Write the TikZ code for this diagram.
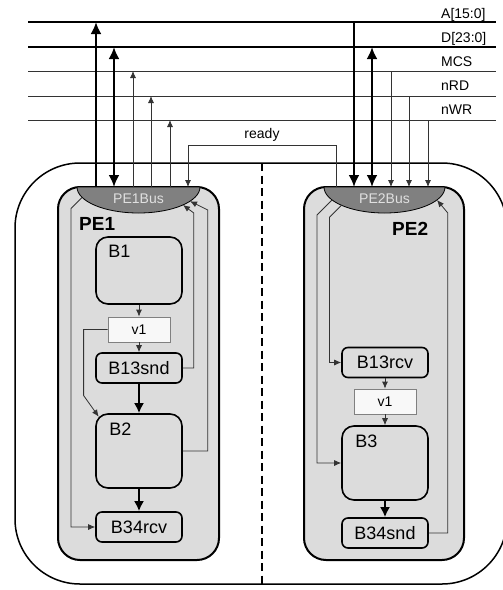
\documentclass[tikz,border=0pt]{standalone}
\usepackage{fontspec}
\setmainfont{Liberation Sans}
\usetikzlibrary{arrows.meta,calc}

\definecolor{pefill}{HTML}{DCDCDC}
\definecolor{busfill}{HTML}{808080}
\definecolor{varfill}{HTML}{F8F8F8}
\definecolor{wire}{HTML}{333333}

\begin{document}
\begin{tikzpicture}[
  x=1pt, y=-1pt,
  pebox/.style={
    draw,
    line width=2pt,
    fill=pefill,
    rounded corners=22pt
  },
  block/.style={
    draw,
    line width=1.6pt,
    fill=pefill,
    rounded corners=6pt,
    minimum width=86pt,
    minimum height=30pt,
    font=\fontsize{18}{20}\selectfont
  },
  bigblock/.style={
    block,
    rounded corners=12pt,
    minimum height=74pt
  },
  varbox/.style={
    draw=busfill,
    line width=0.8pt,
    fill=varfill,
    minimum width=62pt,
    minimum height=25pt,
    font=\fontsize{14}{16}\selectfont
  },
  corner/.style={anchor=north west, inner sep=0pt, font=\fontsize{18}{20}\selectfont},
  pelbl/.style={anchor=north west, inner sep=0pt, font=\fontsize{19}{21}\selectfont\bfseries},
  buslbl/.style={anchor=base west, inner sep=0pt, font=\fontsize{14}{16}\selectfont},
  lens/.style={fill=busfill, draw=black, line width=0.8pt},
  busline/.style={line width=2.5pt},
  sigline/.style={draw=wire, line width=0.9pt},
  busarr/.style={line width=2.5pt, -{Latex[length=12pt,width=11pt]}},
  busdarr/.style={line width=2.5pt, {Latex[length=12pt,width=11pt]}-{Latex[length=12pt,width=11pt]}},
  flowarr/.style={line width=2pt, -{Latex[length=10pt,width=10pt]}},
  thinarr/.style={draw=wire, line width=0.8pt, -{Latex[length=7pt,width=6pt]}}
]
\useasboundingbox (0,0) rectangle (503,590);
\clip (0,0) rectangle (503,590);

% --- Shared bus lines ---
\coordinate (aL) at (28,22);  \coordinate (aR) at (496,22);
\coordinate (dL) at (28,47);  \coordinate (dR) at (496,47);
\coordinate (mL) at (28,71);  \coordinate (mR) at (496,71);
\coordinate (rL) at (28,96);  \coordinate (rR) at (496,96);
\coordinate (wL) at (28,120); \coordinate (wR) at (496,120);

\draw[busline] (aL) -- (aR);
\draw[busline] (dL) -- (dR);
\draw[sigline] (mL) -- (mR);
\draw[sigline] (rL) -- (rR);
\draw[sigline] (wL) -- (wR);

\node[buslbl] (albl) at (441,18) {A[15:0]};
\node[buslbl] (dlbl) at (441,42) {D[23:0]};
\node[buslbl] (mlbl) at (441,66) {MCS};
\node[buslbl] (rlbl) at (441,90) {nRD};
\node[buslbl] (wlbl) at (441,114) {nWR};

% --- System frame and partition ---
\draw[line width=1.5pt, rounded corners=65pt] (15,163) rectangle (507,584);
\coordinate (divtop) at (262,163);
\coordinate (divbot) at (262,584);
\draw[line width=1.8pt, dash pattern=on 8pt off 4.5pt] (divtop) -- (divbot);

% --- Processing elements ---
\draw[pebox] (58,187) rectangle (219,560);
\draw[pebox] (304,187) rectangle (464,560);

\draw[lens] (77,187) arc[start angle=180, end angle=360, x radius=61.5pt, y radius=26pt] -- cycle;
\draw[lens] (324,187) arc[start angle=180, end angle=360, x radius=60.5pt, y radius=26pt] -- cycle;
\node[text=white!88!black, font=\fontsize{14}{16}\selectfont] (pe1bus) at (138.5,199) {PE1Bus};
\node[text=white!88!black, font=\fontsize{14}{16}\selectfont] (pe2bus) at (384.5,199) {PE2Bus};

\node[pelbl] (pe1lbl) at (79,217) {PE1};
\node[pelbl] (pe2lbl) at (392,222) {PE2};

% PE1 blocks
\node[bigblock, minimum height=67pt, label={[corner, xshift=13pt, yshift=-9pt]north west:B1}] (b1) at (139,270.5) {};
\node[varbox] (v1a) at (139,329.5) {v1};
\node[block] (b13snd) at (139,368) {B13snd};
\node[bigblock, label={[corner, xshift=14pt, yshift=-10pt]north west:B2}] (b2) at (139,451) {};
\node[block] (b34rcv) at (139,527) {B34rcv};

% PE2 blocks
\node[block] (b13rcv) at (385,362.5) {B13rcv};
\node[varbox] (v1b) at (385,401.5) {v1};
\node[bigblock, label={[corner, xshift=14pt, yshift=-10pt]north west:B3}] (b3) at (385,463) {};
\node[block] (b34snd) at (385,533) {B34snd};

% --- Bus connections ---
\coordinate (pe1a) at (96,187);
\coordinate (pe1d) at (114,187);
\coordinate (pe1m) at (133,187);
\coordinate (pe1r) at (151,187);
\coordinate (pe1w) at (170,187);
\coordinate (pe2a) at (354,187);
\coordinate (pe2d) at (372,187);
\coordinate (pe2m) at (391,187);
\coordinate (pe2r) at (409,187);
\coordinate (pe2w) at (428,187);

\draw[busarr] (pe1a) -- (pe1a |- aL);
\draw[busdarr] (pe1d |- dL) -- (pe1d);
\draw[thinarr] (pe1m) -- (pe1m |- mL);
\draw[thinarr] (pe1r) -- (pe1r |- rL);
\draw[thinarr] (pe1w) -- (pe1w |- wL);

\draw[busarr] (pe2a |- aL) -- (pe2a);
\draw[busdarr] (pe2d |- dL) -- (pe2d);
\draw[thinarr] (pe2m |- mL) -- (pe2m);
\draw[thinarr] (pe2r |- rL) -- (pe2r);
\draw[thinarr] (pe2w |- wL) -- (pe2w);

% ready handshake
\coordinate (rdyout) at (336,187);
\coordinate (rdyin) at (188,187);
\draw[thinarr] (rdyout) -- ++(0,-42) -| node[pos=0.25, above, font=\fontsize{14}{16}\selectfont] {ready} (rdyin);

% --- PE1 internal ---
\coordinate (pe1l1) at (82,197.5);
\coordinate (pe1r1) at (183,205);
\coordinate (pe1r2) at (190,201.2);
\coordinate (b2tip) at ($(b2.north west)+(3.5,3.5)$);

\draw[thinarr] (b1) -- (v1a);
\draw[thinarr] (v1a) -- (b13snd);
\draw[flowarr] (b13snd) -- (b2);
\draw[flowarr] (b2) -- (b34rcv);
\draw[thinarr] (pe1l1) -- ++(-11,11) |- (b34rcv.west);
\draw[thinarr] (v1a.west) -- ++(-24,0) -- ++(0,66) -- (b2tip);
\draw[thinarr] (b13snd.east) -| ++(11,-155) -- (pe1r1);
\draw[thinarr] (b2.east) -| ++(25,-241) -- (pe1r2);

% --- PE2 internal ---
\coordinate (pe2l1) at (332,200);
\coordinate (pe2l2) at (341.5,205.3);
\coordinate (pe2r1) at (437,200);

\draw[thinarr] (b13rcv) -- (v1b);
\draw[thinarr] (v1b) -- (b3);
\draw[flowarr] (b3) -- (b34snd);
\draw[thinarr] (pe2l1) -- ++(-15,15) |- (b3.west);
\draw[thinarr] (pe2l2) -- ++(-12,12) |- (b13rcv.west);
\draw[thinarr] (b34snd.east) -| ++(19,-320) -- (pe2r1);

\end{tikzpicture}
\end{document}
